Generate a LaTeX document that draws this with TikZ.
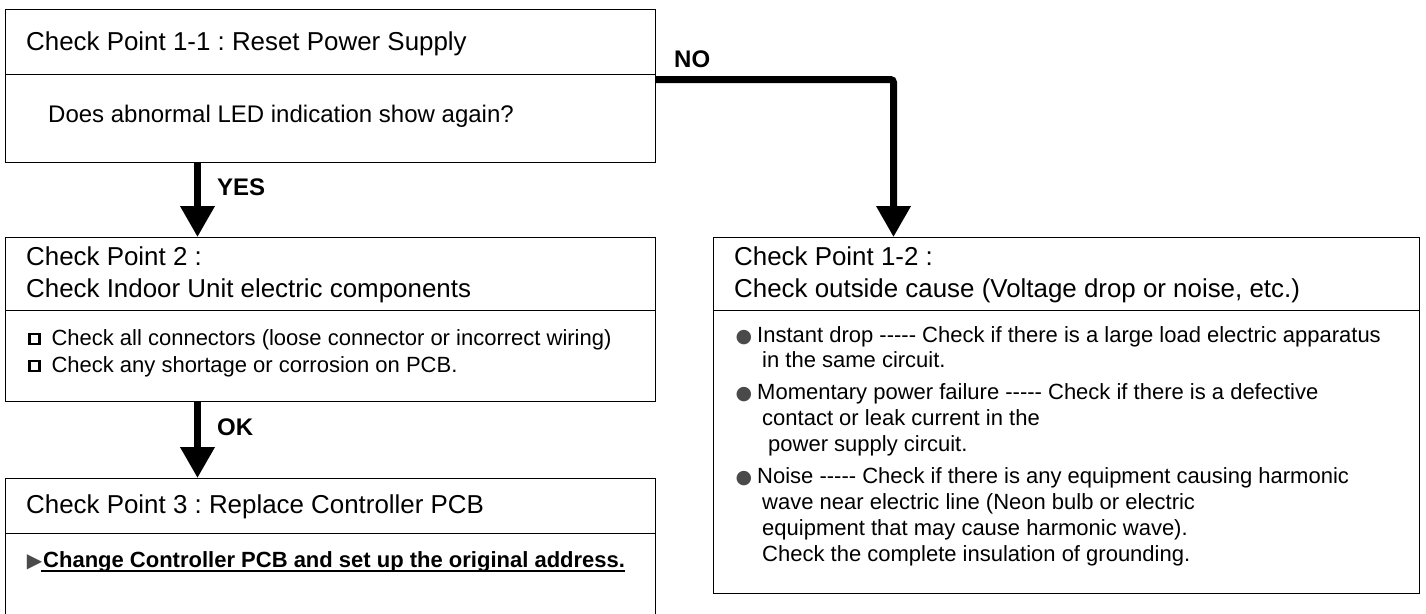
\documentclass[tikz,border=0pt]{standalone}
\usepackage{fontspec}
\setmainfont{Liberation Sans}
\newfontfamily\symfont{DejaVu Sans}
\usepackage{tikz}
\usetikzlibrary{arrows.meta,positioning}
\usepackage{xcolor}
\definecolor{markgray}{HTML}{4A4A4A}
\frenchspacing

\newcommand{\hdrsize}{\fontsize{25.9}{32}\selectfont}
\newcommand{\bodysize}{\fontsize{22}{26}\selectfont}
\newcommand{\dashes}{-{}-{}-{}-{}-}
\newcommand{\chkbox}{\raisebox{2.5pt}{\setlength{\fboxsep}{0pt}\setlength{\fboxrule}{2.4pt}\fbox{\rule{0pt}{7.5pt}\hspace{7.5pt}}}}
\newcommand{\dotmark}{\llap{{\symfont\fontsize{19}{19}\selectfont\textcolor{markgray}{●}}\hspace{5pt}}}
\newcommand{\trimark}{{\symfont\fontsize{20}{20}\selectfont\textcolor{markgray}{▶}}}
\newsavebox{\ulbox}
\newcommand{\ulline}[1]{\sbox{\ulbox}{#1}\rlap{\rule[-4.5pt]{\wd\ulbox}{1.4pt}}\usebox{\ulbox}}

\begin{document}
\begin{tikzpicture}[x=1pt, y=-1pt,
      part/.style={draw, line width=1pt, anchor=north west, inner sep=0pt},
      txt/.style={anchor=base west, inner sep=0pt, align=left},
      lbl/.style={anchor=base west, inner sep=0pt, font=\fontsize{24}{28}\selectfont\bfseries},
      flow/.style={line width=7pt, -{Triangle[length=31pt, width=33pt]}}
    ]
      \useasboundingbox (0,0) rectangle (1426,613);

      % left column
      \node[part, minimum width=650pt, minimum height=65pt] (cp11h) at (5,9) {};
      \node[part, minimum width=650pt, minimum height=88pt] (cp11b) at (5,74) {};
      \node[part, minimum width=650pt, minimum height=73pt] (cp2h) at (5,237) {};
      \node[part, minimum width=650pt, minimum height=91pt] (cp2b) at (5,310) {};
      \node[part, minimum width=650pt, minimum height=55pt] (cp3h) at (5,478) {};
      \node[part, minimum width=650pt, minimum height=92pt] (cp3b) at (5,533) {};

      % right column
      \node[part, minimum width=706pt, minimum height=73pt] (cp12h) at (713,237) {};
      \node[part, minimum width=706pt, minimum height=283pt] (cp12b) at (713,310) {};

      % texts (multi-line nodes sit on their last baseline)
      \node[txt, font=\hdrsize] (t11h) at (26,50) {Check Point 1-1 : Reset Power Supply};
      \node[txt, font=\fontsize{24}{28}\selectfont] (t11b) at (48,122) {Does abnormal LED indication show again?};
      \node[txt, font=\hdrsize] (t2h) at (26,297) {Check Point 2 :\\Check Indoor Unit electric components};
      \node[txt, font=\fontsize{22}{27}\selectfont] (t2b) at (28,372) {%
        \chkbox\hspace{11pt}Check all connectors (loose connector or incorrect wiring)\\
        \chkbox\hspace{11pt}Check any shortage or corrosion on PCB.};
      \node[txt, font=\hdrsize] (t3h) at (26,513) {Check Point 3 : Replace Controller PCB};
      \node[txt, font=\bodysize\bfseries] (t3b) at (41,567) {%
        \llap{\trimark\hspace{-1pt}}\ulline{\hspace{2pt}Change Controller PCB and set up the original address.}};

      \node[txt, font=\hdrsize] (t12h) at (734,297) {Check Point 1-2 :\\Check outside cause (Voltage drop or noise, etc.)};
      \node[txt, font=\fontsize{22}{25}\selectfont] (i1) at (757,367) {%
        \dotmark Instant drop \dashes{} Check if there is a large load electric apparatus\\
        \hspace*{5pt}in the same circuit.};
      \node[txt, font=\bodysize] (i2) at (757,451) {%
        \dotmark Momentary power failure \dashes{} Check if there is a defective\\
        \hspace*{5pt}contact or leak current in the\\
        \hspace*{11pt}power supply circuit.};
      \node[txt, font=\bodysize] (i3) at (757,561) {%
        \dotmark Noise \dashes{} Check if there is any equipment causing harmonic\\
        \hspace*{5pt}wave near electric line (Neon bulb or electric\\
        \hspace*{5pt}equipment that may cause harmonic wave).\\
        \hspace*{5pt}Check the complete insulation of grounding.};

      % labels and arrows
      \node[lbl] (yes) at (217,195) {YES};
      \node[lbl] (ok) at (217,435) {OK};
      \node[lbl] (no) at (674,67) {NO};

      \draw[flow] ([xshift=-133pt]cp11b.south) -- ([xshift=-133pt]cp2h.north);
      \draw[flow] ([xshift=-133pt]cp2b.south) -- ([xshift=-133pt]cp3h.north);
      \draw[flow, rounded corners=3pt] ([yshift=-5.5pt]cp11b.north east) -| ([xshift=-173pt]cp12h.north);
    \end{tikzpicture}
\end{document}
